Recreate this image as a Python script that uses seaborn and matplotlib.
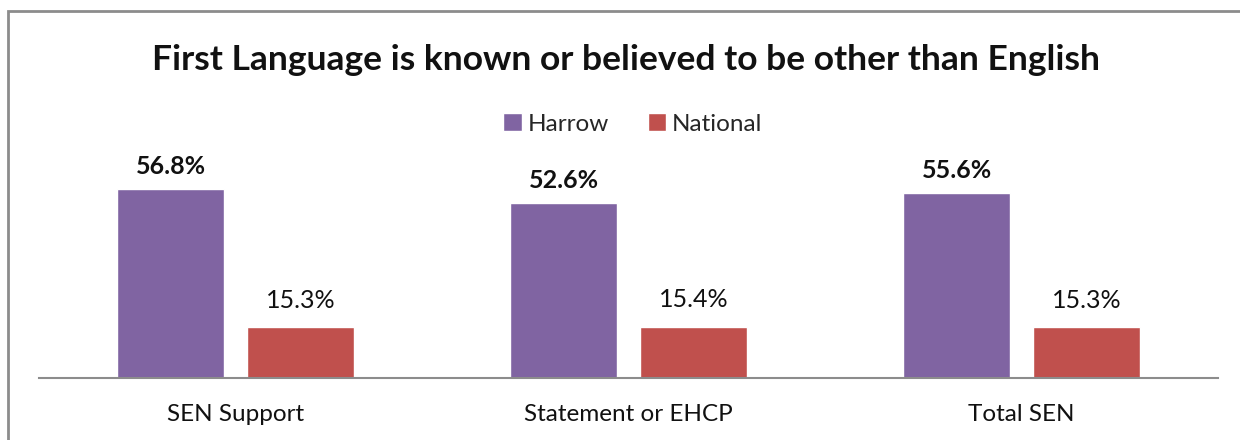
import matplotlib
matplotlib.use('Agg')
import matplotlib.pyplot as plt
import seaborn as sns
import pandas as pd
from matplotlib.patches import Rectangle

categories = ['SEN Support', 'Statement or EHCP', 'Total SEN']
series = ['Harrow', 'National']
harrow = [56.8, 52.6, 55.6]
national = [15.3, 15.4, 15.3]
colors = ['#8064A2', '#C0504D']

df = pd.DataFrame({
    'category': categories * 2,
    'area': ['Harrow'] * 3 + ['National'] * 3,
    'value': harrow + national,
})

sns.set_style('white')
plt.rcParams['font.family'] = ['Lato', 'DejaVu Sans']

fig = plt.figure(figsize=(12.4, 4.4), dpi=100)
ax = fig.add_axes([39 / 1240, 62 / 440, 1179 / 1240, 200 / 440])

sns.barplot(data=df, x='category', y='value', hue='area', order=categories,
            hue_order=series, palette=colors, width=0.66, gap=0.18,
            saturation=1, ax=ax)

ax.set_xlim(-0.5, 2.5)
ax.set_ylim(0, 60)
ax.set_xlabel('')
ax.set_ylabel('')
ax.set_yticks([])
for s in ['top', 'right', 'left']:
    ax.spines[s].set_visible(False)
ax.spines['bottom'].set_color('#8c8c8c')
ax.spines['bottom'].set_linewidth(1.5)
ax.tick_params(axis='x', length=0, pad=19, labelsize=17.5, labelcolor='#111111')

# data labels
for cont, bold, off in zip(ax.containers, ['bold', 'normal'], [8, 11]):
    for bar in cont:
        h = bar.get_height()
        ax.annotate(f'{h:.1f}%', (bar.get_x() + bar.get_width() / 2, h),
                    xytext=(0, off), textcoords='offset points',
                    ha='center', va='bottom', fontsize=18, fontweight=bold,
                    color='#111111', clip_on=False)

ax.legend(loc='center', bbox_to_anchor=(633 / 1240, 1 - 124 / 440),
          bbox_transform=fig.transFigure, ncol=2, frameon=False,
          fontsize=17.5, handlelength=0.75, handleheight=0.75,
          handletextpad=0.25, columnspacing=1.6)

fig.text(0.505, 1 - 60 / 440, 'First Language is known or believed to be other than English',
         ha='center', va='center', fontsize=25.5, fontweight='bold', color='#111111')

fig.patches.append(Rectangle((8 / 1240, -0.1), 1.2, 1 - 11 / 440 + 0.1,
                             transform=fig.transFigure, fill=False,
                             edgecolor='#8c8c8c', linewidth=2))

fig.savefig('out.png', dpi=100)
